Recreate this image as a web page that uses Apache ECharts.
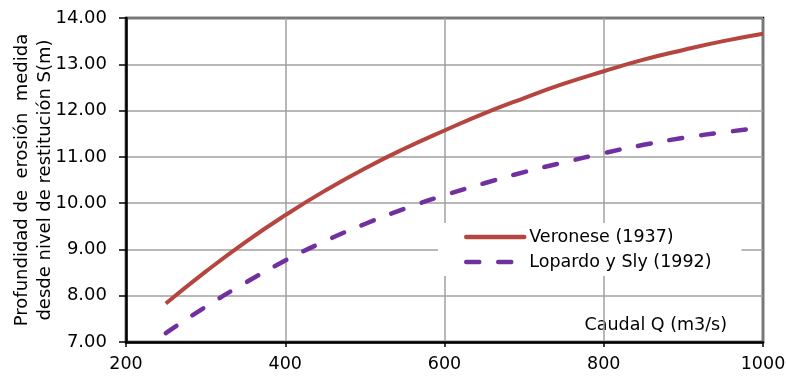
<!DOCTYPE html>
<html>
<head>
<meta charset="utf-8">
<script src="https://cdn.jsdelivr.net/npm/echarts@6/dist/echarts.min.js"></script>
<style>html,body{margin:0;padding:0;background:#fff;}#c{width:786px;height:381px;}</style>
</head>
<body>
<div id="c"></div>
<script>
var caudal = [250, 300, 350, 400, 450, 500, 550, 600, 650, 700, 750, 800, 850, 900, 950, 1000];
var veronese = [7.83, 8.52, 9.16, 9.74, 10.27, 10.75, 11.18, 11.57, 11.94, 12.27, 12.58, 12.85, 13.10, 13.31, 13.50, 13.66];
var lopardo = [7.19, 7.76, 8.28, 8.76, 9.18, 9.55, 9.88, 10.17, 10.43, 10.67, 10.88, 11.08, 11.26, 11.41, 11.53, 11.63];
var seriesNames = ['Veronese (1937)', 'Lopardo y Sly (1992)'];
var yAxisTitle = 'Profundidad de  erosión  medida\ndesde nivel de restitución S(m)';
var xAxisTitle = 'Caudal Q (m3/s)';

function pairs(xs, ys) { return xs.map(function (x, i) { return [x, ys[i]]; }); }

var chart = echarts.init(document.getElementById('c'));
var font = 'DejaVu Sans, Liberation Sans, Arial, sans-serif';
chart.setOption({
  animation: false,
  textStyle: { fontFamily: font },
  grid: { left: 126, right: 23, top: 18, bottom: 39, outerBoundsMode: 'none', containLabel: false, show: true, borderColor: '#000', borderWidth: 2.5, backgroundColor: 'transparent' },
  xAxis: {
    type: 'value', min: 200, max: 1000, interval: 200,
    axisLine: { show: true, lineStyle: { color: '#000', width: 2.5 } },
    axisTick: { show: true, length: 5, lineStyle: { color: '#000', width: 1.5 } },
    axisLabel: { color: '#000', fontSize: 17.5, fontFamily: font, margin: 13, formatter: function (v) { return String(v); } },
    splitLine: { show: true, lineStyle: { color: '#a0a0a0', width: 1.5 } }
  },
  yAxis: {
    type: 'value', min: 7, max: 14, interval: 1,
    name: yAxisTitle, nameLocation: 'middle', nameRotate: 90, nameGap: 69, nameMoveOverlap: false,
    nameTextStyle: { color: '#000', fontSize: 18, fontFamily: font, lineHeight: 23, align: 'center' },
    axisLine: { show: true, lineStyle: { color: '#000', width: 2.5 } },
    axisTick: { show: true, length: 7, lineStyle: { color: '#000', width: 1.5 } },
    axisLabel: { color: '#000', fontSize: 18, fontFamily: font, margin: 19, formatter: function (v) { return v.toFixed(2); } },
    splitLine: { show: true, lineStyle: { color: '#a0a0a0', width: 1.5 } }
  },
  legend: {
    orient: 'vertical', left: 438, top: 223,
    backgroundColor: '#fff',
    padding: [4, 30, 4, 26],
    itemWidth: 58, itemHeight: 20, itemGap: 5,
    itemStyle: { opacity: 0 },
    lineStyle: { width: 4.5, cap: 'round' },
    textStyle: { color: '#000', fontSize: 17.5, fontFamily: font, lineHeight: 20 },
    data: seriesNames
  },
  graphic: [{
    type: 'text', x: 727, y: 325,
    style: { text: xAxisTitle, fill: '#000', font: '17.5px ' + font, textAlign: 'right', textVerticalAlign: 'middle' }
  }],
  series: [{
    name: seriesNames[0], type: 'line', smooth: true, symbol: 'none',
    data: pairs(caudal, veronese),
    lineStyle: { color: '#b5453e', width: 4 },
    itemStyle: { color: '#b5453e' }
  }, {
    name: seriesNames[1], type: 'line', smooth: true, symbol: 'none',
    data: pairs(caudal, lopardo),
    lineStyle: { color: '#7030a0', width: 4.5, type: [13, 19], cap: 'round' },
    itemStyle: { color: '#7030a0' }
  }]
});
</script>
</body>
</html>
